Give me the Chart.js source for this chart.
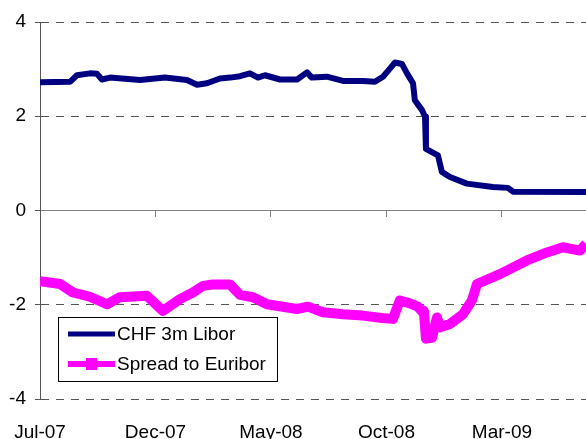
<!DOCTYPE html>
<html>
<head>
<meta charset="utf-8">
<script src="https://cdn.jsdelivr.net/npm/chart.js@4/dist/chart.umd.min.js"></script>
<style>
  html, body { margin: 0; padding: 0; background: #fff; }
  #wrap { width: 586px; height: 439px; }
</style>
</head>
<body>
<div id="wrap"><canvas id="chart" width="586" height="439"></canvas></div>
<script>
// months since Jul-07
const tickMonths = [0, 5, 10, 15, 20];
const tickLabels = ["Jul-07", "Dec-07", "May-08", "Oct-08", "Mar-09"];
const monthMax = 23.64;

const liborMonths = [0, 1.3, 1.6, 2.16, 2.47, 2.68, 3.03, 4.33, 5.41, 6.36, 6.8, 7.23, 7.79, 8.23, 8.66, 9.09, 9.44, 9.74, 10.39, 11.13, 11.56, 11.77, 12.42, 13.12, 13.98, 14.5, 14.85, 15.15, 15.37, 15.67, 15.89, 16.15, 16.23, 16.54, 16.67, 16.71, 17.23, 17.4, 17.75, 18.48, 19.61, 20.26, 20.48, 23.64];
const liborValues = [2.72, 2.73, 2.87, 2.91, 2.9, 2.78, 2.82, 2.77, 2.82, 2.77, 2.67, 2.7, 2.8, 2.82, 2.85, 2.91, 2.82, 2.87, 2.78, 2.78, 2.93, 2.82, 2.84, 2.75, 2.75, 2.73, 2.84, 3.01, 3.14, 3.11, 2.91, 2.7, 2.34, 2.13, 1.99, 1.31, 1.17, 0.82, 0.71, 0.57, 0.5, 0.48, 0.4, 0.39];

const spreadMonths = [0, 0.87, 1.43, 2.16, 2.9, 3.46, 4.63, 5.32, 6.06, 6.62, 7.06, 7.49, 8.23, 8.66, 9.22, 9.83, 11.13, 11.6, 12.25, 13.12, 13.98, 14.81, 15.28, 15.58, 16.02, 16.36, 16.58, 16.62, 16.71, 16.97, 17.19, 17.32, 17.75, 18.31, 18.7, 18.92, 19.91, 21.08, 21.95, 22.64, 23.38, 23.64];
const spreadValues = [-1.5, -1.56, -1.74, -1.83, -1.99, -1.84, -1.81, -2.13, -1.88, -1.74, -1.6, -1.57, -1.57, -1.79, -1.84, -1.99, -2.09, -2.04, -2.16, -2.2, -2.23, -2.28, -2.3, -1.91, -1.97, -2.04, -2.16, -2.13, -2.72, -2.7, -2.27, -2.48, -2.41, -2.2, -1.91, -1.56, -1.35, -1.06, -0.89, -0.78, -0.85, -0.71];

const FONT = "'Liberation Sans', Arial, sans-serif";

function toPoints(xs, ys) {
  return xs.map((x, i) => ({ x, y: ys[i] }));
}

const boxLegend = {
  id: "boxLegend",
  afterDraw(chart) {
    const ctx = chart.ctx;
    const sets = chart.data.datasets;
    ctx.save();
    ctx.fillStyle = "#fff";
    ctx.fillRect(58.5, 317.5, 219, 64);
    ctx.strokeStyle = "#000";
    ctx.lineWidth = 1;
    ctx.strokeRect(58.5, 317.5, 219, 64);
    ctx.font = `19px ${FONT}`;
    ctx.textBaseline = "middle";
    sets.forEach((set, i) => {
      const y = 334 + i * 30;
      ctx.strokeStyle = set.borderColor;
      ctx.lineWidth = i === 0 ? 5 : 6;
      ctx.beginPath();
      ctx.moveTo(68, y);
      ctx.lineTo(115, y);
      ctx.stroke();
      if (i === 1) {
        ctx.fillStyle = set.borderColor;
        ctx.fillRect(86, y - 6, 11, 12);
      }
      ctx.fillStyle = "#000";
      ctx.fillText(set.label, 117, y + 1);
    });
    ctx.restore();
  },
};

new Chart(document.querySelector("#chart"), {
  type: "line",
  data: {
    datasets: [
      {
        label: "CHF 3m Libor",
        data: toPoints(liborMonths, liborValues),
        borderColor: "#000080",
        borderWidth: 6,
        borderJoinStyle: "round",
        pointRadius: 0,
        xAxisID: "x",
      },
      {
        label: "Spread to Euribor",
        data: toPoints(spreadMonths, spreadValues),
        borderColor: "#ff00ff",
        borderWidth: 10,
        borderJoinStyle: "round",
        pointRadius: 0,
        xAxisID: "x",
      },
    ],
  },
  options: {
    responsive: false,
    animation: false,
    layout: { padding: { top: 22, right: 0, left: 0, bottom: 0 } },
    plugins: { legend: { display: false }, tooltip: { enabled: false } },
    scales: {
      x: {
        type: "linear",
        position: { y: 0 },
        min: 0,
        max: monthMax,
        afterBuildTicks: (scale) => { scale.ticks = tickMonths.map((v) => ({ value: v })); },
        ticks: { display: false },
        grid: { drawOnChartArea: false, drawTicks: true, tickLength: 6, tickColor: "#808080" },
        border: { color: "#808080", width: 1 },
      },
      xb: {
        type: "linear",
        position: "bottom",
        min: 0,
        max: monthMax,
        afterBuildTicks: (scale) => { scale.ticks = tickMonths.map((v) => ({ value: v })); },
        afterFit: (scale) => {
          scale.height = 40;
          scale.paddingLeft = 0;
          scale.paddingRight = 0;
        },
        ticks: {
          color: "#000",
          font: { family: FONT, size: 19 },
          padding: 14,
          maxRotation: 0,
          autoSkip: false,
          callback: (value) => tickLabels[tickMonths.indexOf(value)],
        },
        grid: { display: false },
        border: { display: false },
      },
      y: {
        min: -4,
        max: 4,
        afterBuildTicks: (scale) => { scale.ticks = [-4, -2, 0, 2, 4].map((v) => ({ value: v })); },
        afterFit: (scale) => { scale.width = 40; },
        ticks: { color: "#000", font: { family: FONT, size: 19 }, padding: 9 },
        grid: { color: "#555", tickLength: 5, tickColor: "#555" },
        border: { color: "#555", dash: [8, 7] },
      },
    },
  },
  plugins: [boxLegend],
});
</script>
</body>
</html>
